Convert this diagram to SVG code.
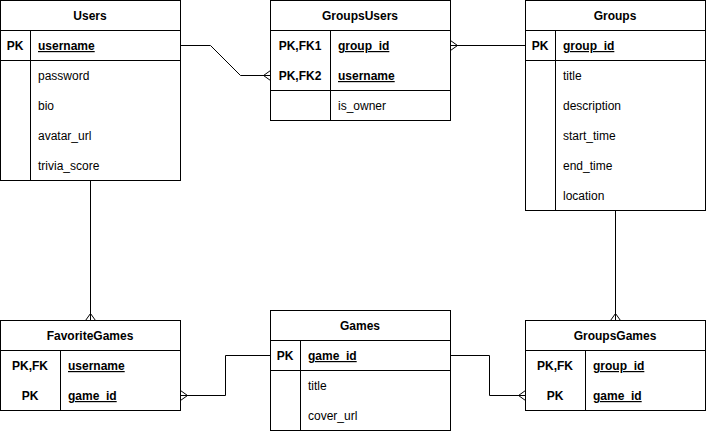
<svg xmlns="http://www.w3.org/2000/svg" width="706" height="431" viewBox="0 0 706 431">
<style>
.box{fill:#fff;stroke:#000;stroke-width:1}
.ln{stroke:#000;stroke-width:1;fill:none}
text{font-family:"Liberation Sans",Arial,sans-serif;font-size:12px;fill:#000}
.h{font-weight:bold;text-anchor:middle}
.k{font-weight:bold;text-anchor:middle}
.u{font-weight:bold;text-decoration:underline}
.conn{stroke:#000;stroke-width:1;fill:none;marker-end:url(#many)}
</style>
<defs>
<marker id="many" markerUnits="userSpaceOnUse" markerWidth="12" markerHeight="12" refX="0" refY="0" orient="auto" overflow="visible">
<path d="M0,-5 L-7,0 L0,5" fill="none" stroke="#000" stroke-width="1"/>
</marker>
</defs>
<rect width="706" height="431" fill="#fff"/>
<g id="connectors">
<path class="conn" d="M180.5,45.5 H210.5 L240.5,75.5 H270.5"/>
<path class="conn" d="M525.5,45.5 H450.5"/>
<path class="conn" d="M90.5,180.5 V320.5"/>
<path class="conn" d="M615.5,210.5 V320.5"/>
<path class="conn" d="M270.5,355.5 H225.5 V395.5 H180.5"/>
<path class="conn" d="M450.5,355.5 H489.5 V395.5 H525.5"/>
</g>
<g id="Users">
<rect class="box" x="0.5" y="0.5" width="180" height="180"/>
<path class="ln" d="M0.5,30.5 H180.5 M0.5,60.5 H180.5 M30.5,30.5 V180.5"/>
<text class="h" x="90" y="20">Users</text>
<text class="k" x="15" y="50">PK</text>
<text class="u" x="38" y="50">username</text>
<text x="38" y="80">password</text>
<text x="38" y="110">bio</text>
<text x="38" y="140">avatar_url</text>
<text x="38" y="170">trivia_score</text>
</g>
<g id="GroupsUsers">
<rect class="box" x="270.5" y="0.5" width="180" height="120"/>
<path class="ln" d="M270.5,30.5 H450.5 M270.5,90.5 H450.5 M330.5,30.5 V120.5"/>
<text class="h" x="360" y="20">GroupsUsers</text>
<text class="k" x="300" y="50">PK,FK1</text>
<text class="u" x="338" y="50">group_id</text>
<text class="k" x="300" y="80">PK,FK2</text>
<text class="u" x="338" y="80">username</text>
<text x="338" y="110">is_owner</text>
</g>
<g id="Groups">
<rect class="box" x="525.5" y="0.5" width="180" height="210"/>
<path class="ln" d="M525.5,30.5 H705.5 M525.5,60.5 H705.5 M555.5,30.5 V210.5"/>
<text class="h" x="615" y="20">Groups</text>
<text class="k" x="540" y="50">PK</text>
<text class="u" x="563" y="50">group_id</text>
<text x="563" y="80">title</text>
<text x="563" y="110">description</text>
<text x="563" y="140">start_time</text>
<text x="563" y="170">end_time</text>
<text x="563" y="200">location</text>
</g>
<g id="FavoriteGames">
<rect class="box" x="0.5" y="320.5" width="180" height="90"/>
<path class="ln" d="M0.5,350.5 H180.5 M60.5,350.5 V410.5"/>
<text class="h" x="90" y="340">FavoriteGames</text>
<text class="k" x="30" y="370">PK,FK</text>
<text class="u" x="68" y="370">username</text>
<text class="k" x="30" y="400">PK</text>
<text class="u" x="68" y="400">game_id</text>
</g>
<g id="Games">
<rect class="box" x="270.5" y="310.5" width="180" height="120"/>
<path class="ln" d="M270.5,340.5 H450.5 M270.5,370.5 H450.5 M300.5,340.5 V430.5"/>
<text class="h" x="360" y="330">Games</text>
<text class="k" x="285" y="360">PK</text>
<text class="u" x="308" y="360">game_id</text>
<text x="308" y="390">title</text>
<text x="308" y="420">cover_url</text>
</g>
<g id="GroupsGames">
<rect class="box" x="525.5" y="320.5" width="180" height="90"/>
<path class="ln" d="M525.5,350.5 H705.5 M585.5,350.5 V410.5"/>
<text class="h" x="615" y="340">GroupsGames</text>
<text class="k" x="555" y="370">PK,FK</text>
<text class="u" x="593" y="370">group_id</text>
<text class="k" x="555" y="400">PK</text>
<text class="u" x="593" y="400">game_id</text>
</g>
</svg>
